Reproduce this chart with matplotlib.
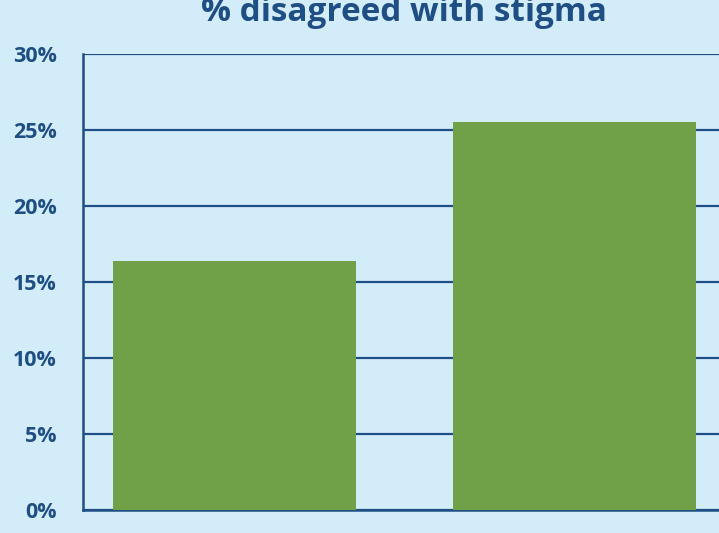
import matplotlib.pyplot as plt
from matplotlib.ticker import FuncFormatter

# Data
groups = ["Group A", "Group B"]
disagreed_pct = [16.4, 25.5]
y_ticks = [0, 5, 10, 15, 20, 25, 30]

bg = "#d2ecf9"
navy = "#1f4e85"
green = "#70a048"

plt.rcParams['font.family'] = ['Open Sans', 'DejaVu Sans']

W, H = 719, 533
fig = plt.figure(figsize=(W / 100, H / 100), dpi=100, facecolor=bg)
# axes box in pixels: left 83, right ~727 (runs off the edge), 0% at 510, 30% at 54
ax = fig.add_axes([83 / W, (H - 510) / H, (727 - 83) / W, (510 - 54) / H])
ax.set_facecolor(bg)

x = range(len(groups))
ax.bar(x, disagreed_pct, width=0.715, color=green, zorder=3)

ax.set_ylim(0, 30)
ax.set_xlim(-0.4456, 1.4485)
ax.set_yticks(y_ticks)
ax.yaxis.set_major_formatter(FuncFormatter(lambda v, p: f"{v:.0f}%"))
ax.set_xticks([])
ax.tick_params(axis='y', length=0, pad=19, labelsize=15.5, labelcolor=navy)
for lbl in ax.get_yticklabels():
    lbl.set_fontweight('bold')

ax.grid(axis='y', color=navy, linewidth=1.6, zorder=1)
for side in ['top', 'right']:
    ax.spines[side].set_visible(False)
for side in ['left', 'bottom']:
    ax.spines[side].set_color(navy)
    ax.spines[side].set_linewidth(1.8)

fig.text(404 / W, 1 - 21 / H, "% disagreed with stigma", ha='center', va='baseline',
         fontsize=24, fontweight='bold', color=navy)

fig.savefig("out.png", dpi=100, facecolor=bg)
